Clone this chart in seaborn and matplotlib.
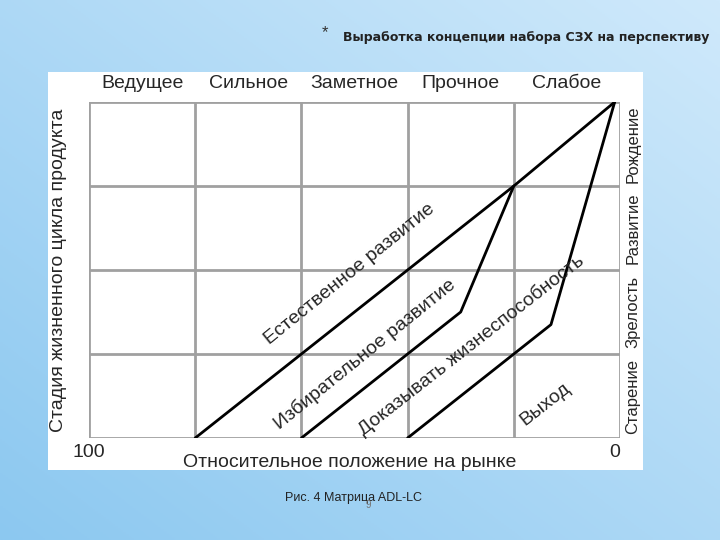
import numpy as np
import pandas as pd
import seaborn as sns
import matplotlib.pyplot as plt
from matplotlib.patches import Rectangle

sns.set_theme(style="white")
plt.rcParams['font.family'] = ['Liberation Sans', 'DejaVu Sans']

# columns: 0 = left (100) .. 5 = right (0); rows 0 = bottom .. 4 = top
positions = ["Ведущее", "Сильное", "Заметное", "Прочное", "Слабое"]
stages = ["Старение", "Зрелость", "Развитие", "Рождение"]

natural_x = [1, 4, 4.95]
natural_y = [0, 3, 4]
selective_x = [2, 3.5, 4]
selective_y = [0, 1.5, 3]
prove_x = [3, 4.35, 4.95]
prove_y = [0, 1.35, 4]

df = pd.concat([
    pd.DataFrame({"x": natural_x, "y": natural_y, "s": "nat"}),
    pd.DataFrame({"x": selective_x, "y": selective_y, "s": "sel"}),
    pd.DataFrame({"x": prove_x, "y": prove_y, "s": "pro"}),
])

fig = plt.figure(figsize=(7.2, 5.4), dpi=100)

# slide background gradient
bg = fig.add_axes([0, 0, 1, 1])
grad = np.linspace(0, 1, 256)
g2 = np.add.outer(grad, grad[::-1]) / 2
bg.imshow(g2, cmap=sns.blend_palette(["#cfe9fb", "#8cc8f0"], as_cmap=True),
          aspect="auto", extent=[0, 1, 0, 1])
bg.set_axis_off()
bg.add_patch(Rectangle((48/720, 1-470/540), (643-48)/720, (470-72)/540,
                       transform=fig.transFigure, facecolor="white", edgecolor="none"))
fig.text(322/720, 1-33/540, "*", fontsize=12, color="#333333", va="center")
fig.text(343/720, 1-38/540, "Выработка концепции набора СЗХ на перспективу",
         fontsize=9, fontweight="bold", color="#222222", va="center",
         family=["DejaVu Sans", "Liberation Sans"])
fig.text(285/720, 1-498/540, "Рис. 4 Матрица ADL-LC", fontsize=9, color="#222222", va="center")
fig.text(366/720, 1-505/540, "9", fontsize=7, color="#777777", va="center")

ax = fig.add_axes([89/720, 1-438/540, (620-89)/720, (438-102)/540])
ax.set_xlim(0, 5)
ax.set_ylim(0, 4)
for v in range(6):
    ax.axvline(v, color="#a0a0a0", lw=2, zorder=1)
for h in range(5):
    ax.axhline(h, color="#a0a0a0", lw=2, zorder=1)
sns.lineplot(data=df, x="x", y="y", units="s", estimator=None, sort=False,
             color="black", lw=2, ax=ax, zorder=3)
ax.set_axis_off()

fs = 14
for i, p in enumerate(positions):
    ax.text(i + 0.5, 4.22, p, ha="center", va="center", fontsize=fs, clip_on=False)
for i, s in enumerate(stages):
    ax.text(5.12, i + 0.5, s, ha="center", va="center", rotation=90, fontsize=12, clip_on=False)
ax.text(-0.29, 2, "Стадия жизненного цикла продукта", ha="center", va="center",
        rotation=90, fontsize=fs, clip_on=False)
ax.text(0, -0.17, "100", ha="center", va="center", fontsize=fs, clip_on=False)
ax.text(4.95, -0.17, "0", ha="center", va="center", fontsize=fs, clip_on=False)
ax.text(2.45, -0.29, "Относительное положение на рынке", ha="center", va="center",
        fontsize=fs, clip_on=False)

ax.text(2.45, 1.95, "Естественное развитие", ha="center", va="center", rotation=39, fontsize=fs)
ax.text(2.6, 1.0, "Избирательное развитие", ha="center", va="center", rotation=39, fontsize=fs)
ax.text(3.6, 1.1, "Доказывать жизнеспособность", ha="center", va="center", rotation=38, fontsize=fs)
ax.text(4.3, 0.4, "Выход", ha="center", va="center", rotation=38, fontsize=fs)

fig.savefig("out.png", dpi=100)
